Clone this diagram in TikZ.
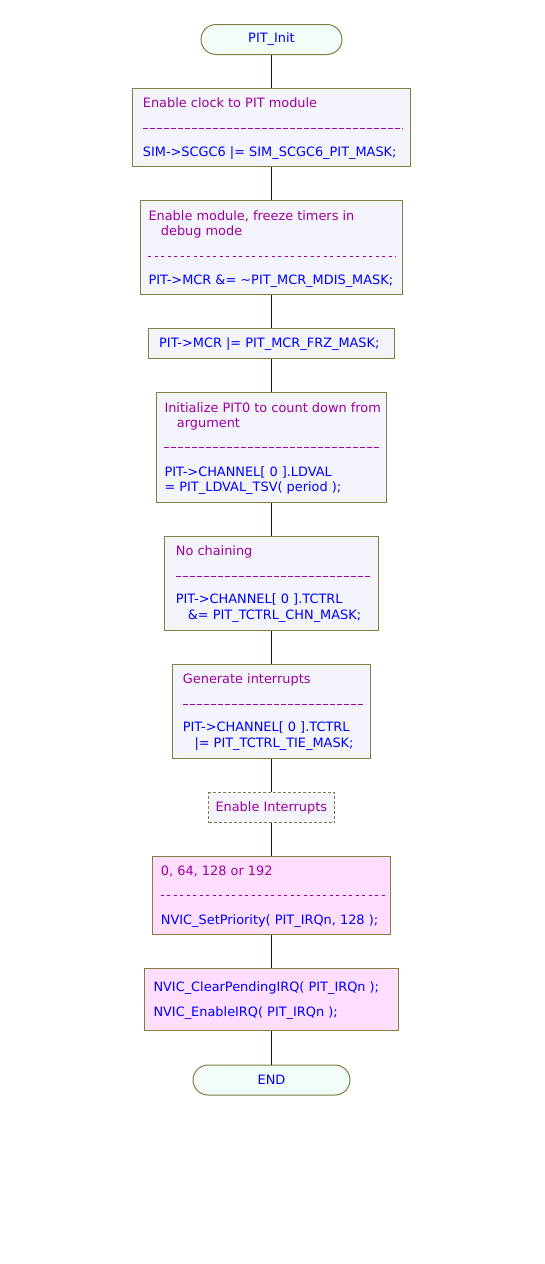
\documentclass[tikz,border=0pt]{standalone}
\usepackage{fontspec}
\newfontfamily\dvfont{DejaVu Sans}
\definecolor{boxfill}{HTML}{F4F4FC}
\definecolor{termfill}{HTML}{F2FCF8}
\definecolor{pinkfill}{HTML}{FFDDFF}
\definecolor{boxline}{HTML}{808040}
\definecolor{codeblue}{HTML}{0000FF}
\definecolor{cmtpurple}{HTML}{A000A0}
\definecolor{linkblue}{HTML}{0000E8}
\tikzset{
  basebox/.style={draw=boxline,line width=1pt,inner sep=0pt,rectangle},
  procbox/.style={basebox,fill=boxfill},
  pinkbox/.style={basebox,fill=pinkfill},
  dashbox/.style={basebox,fill=boxfill,dash pattern=on 3pt off 2pt},
  termbox/.style={basebox,fill=termfill,rounded corners=15pt,text=codeblue},
  codetxt/.style={inner sep=0pt,anchor=base west,text=codeblue},
  cmttxt/.style={inner sep=0pt,anchor=base west,text=cmtpurple},
  densesep/.style={draw=cmtpurple,line width=1pt,dash pattern=on 5pt off 2pt},
  sparsesep/.style={draw=cmtpurple,line width=1pt,dash pattern=on 3pt off 3.5pt},
  flowline/.style={draw=linkblue,line width=1.2pt}
}
\begin{document}
\begin{tikzpicture}[x=1pt,y=-1pt,
  every node/.style={font=\dvfont\fontsize{12.9}{16}\selectfont}]
\path[use as bounding box] (0,0) rectangle (544,1264);
\fill[white] (0,0) rectangle (544,1264);

% boxes
\node[termbox,minimum width=141pt,minimum height=30pt] (init) at (271.5,39.5) {PIT\_Init};
\node[procbox,minimum width=278pt,minimum height=78pt] (b1) at (271.5,127.5) {};
\node[procbox,minimum width=262pt,minimum height=94pt] (b2) at (271.5,247.5) {};
\node[procbox,minimum width=246pt,minimum height=30pt] (b3) at (271.5,343.5) {};
\node[procbox,minimum width=230pt,minimum height=110pt] (b4) at (271.5,447.5) {};
\node[procbox,minimum width=214pt,minimum height=94pt] (b5) at (271.5,583.5) {};
\node[procbox,minimum width=198pt,minimum height=94pt] (b6) at (271.5,711.5) {};
\node[dashbox,minimum width=126pt,minimum height=30pt] (b7) at (271.5,807.5) {};
\node[pinkbox,minimum width=238pt,minimum height=78pt] (b8) at (271.5,895.5) {};
\node[pinkbox,minimum width=254pt,minimum height=62pt] (b9) at (271.5,999.5) {};
\node[termbox,minimum width=157pt,minimum height=30pt] (end) at (271.5,1080) {END};

% connectors
\draw[flowline] (init.south) -- (b1.north);
\draw[flowline] (b1.south) -- (b2.north);
\draw[flowline] (b2.south) -- (b3.north);
\draw[flowline] (b3.south) -- (b4.north);
\draw[flowline] (b4.south) -- (b5.north);
\draw[flowline] (b5.south) -- (b6.north);
\draw[flowline] (b6.south) -- (b7.north);
\draw[flowline] (b7.south) -- (b8.north);
\draw[flowline] (b8.south) -- (b9.north);
\draw[flowline] (b9.south) -- (end.north);

% box 1
\node[cmttxt] (t1a) at (142.7,107.3) {Enable clock to PIT module};
\draw[densesep] (142.7,128) -- (403.3,128);
\node[codetxt] (t1b) at (142.7,156) {SIM->SCGC6 |= SIM\_SCGC6\_PIT\_MASK;};

% box 2
\node[cmttxt] (t2a) at (148.3,220) {Enable module, freeze timers in};
\node[cmttxt] (t2b) at (160.7,235) {debug mode};
\draw[sparsesep] (148.3,256.5) -- (395.7,256.5);
\node[codetxt] (t2c) at (148.3,284.3) {PIT->MCR \&= \textasciitilde PIT\_MCR\_MDIS\_MASK;};

% box 3
\node[codetxt] (t3a) at (159,347.7) {PIT->MCR |= PIT\_MCR\_FRZ\_MASK;};

% box 4
\node[cmttxt] (t4a) at (164.3,412.3) {Initialize PIT0 to count down from};
\node[cmttxt] (t4b) at (176.7,427.7) {argument};
\draw[densesep] (164.3,447.7) -- (379.3,447.7);
\node[codetxt] (t4c) at (164.3,476) {PIT->CHANNEL[ 0 ].LDVAL};
\node[codetxt] (t4d) at (164.3,491.7) {= PIT\_LDVAL\_TSV( period );};

% box 5
\node[cmttxt] (t5a) at (175.7,555.7) {No chaining};
\draw[densesep] (175.7,576.7) -- (370,576.7);
\node[codetxt] (t5b) at (175.7,603.3) {PIT->CHANNEL[ 0 ].TCTRL};
\node[codetxt] (t5c) at (187.7,619) {\&= PIT\_TCTRL\_CHN\_MASK;};

% box 6
\node[cmttxt] (t6a) at (182.7,683.7) {Generate interrupts};
\draw[densesep] (182.7,704.3) -- (362.7,704.3);
\node[codetxt] (t6b) at (182.7,731.7) {PIT->CHANNEL[ 0 ].TCTRL};
\node[codetxt] (t6c) at (194.3,747.7) {|= PIT\_TCTRL\_TIE\_MASK;};

% box 7
\node[cmttxt] (t7a) at (215.3,811.7) {Enable Interrupts};

% box 8
\node[cmttxt] (t8a) at (160.7,875.7) {0, 64, 128 or 192};
\draw[sparsesep] (160.7,895.7) -- (385,895.7);
\node[codetxt] (t8b) at (160.7,924) {NVIC\_SetPriority( PIT\_IRQn, 128 );};

% box 9
\node[codetxt] (t9a) at (153.3,991.7) {NVIC\_ClearPendingIRQ( PIT\_IRQn );};
\node[codetxt] (t9b) at (153.3,1016.7) {NVIC\_EnableIRQ( PIT\_IRQn );};
\end{tikzpicture}
\end{document}
